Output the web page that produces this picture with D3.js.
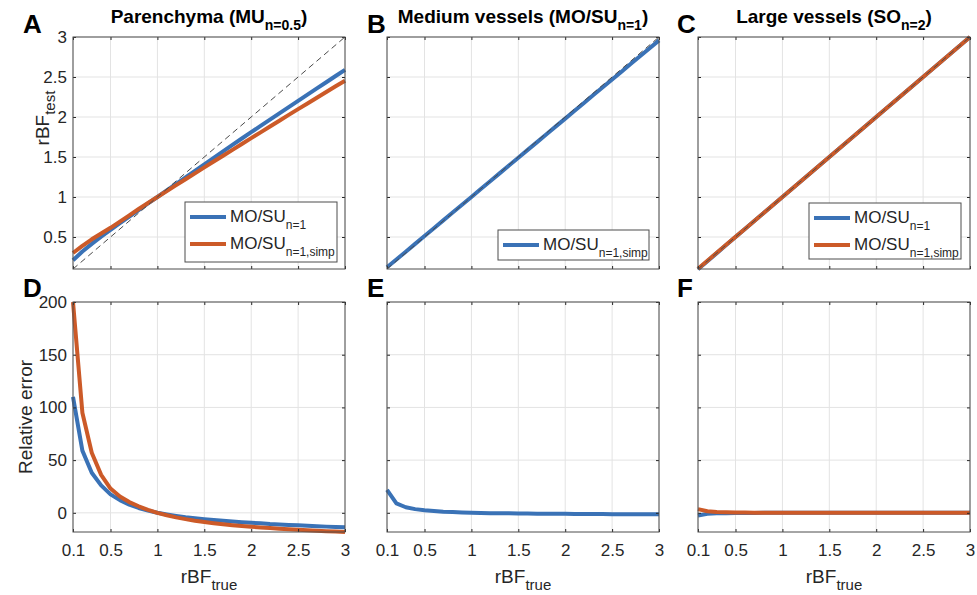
<!DOCTYPE html>
<html lang="en">
<head>
<meta charset="UTF-8">
<title>rBF test vs true</title>
<style>
  body { margin: 0; background: #fff; font-family: "Liberation Sans", Arial, sans-serif; }
  .tick text { font-size: 17px; fill: #262626; font-family: "Liberation Sans", Arial, sans-serif; }
  .tick line { stroke: #262626; }
</style>
<script src="https://d3js.org/d3.v7.min.js"></script>
</head>
<body>
<svg id="fig" width="977" height="595"></svg>
<script>
// x values shared by every panel
const rbfTrue = [0.1, 0.2, 0.3, 0.4, 0.5, 0.6, 0.7, 0.8, 0.9, 1.0,
                 1.1, 1.2, 1.3, 1.4, 1.5, 1.6, 1.7, 1.8, 1.9, 2.0,
                 2.1, 2.2, 2.3, 2.4, 2.5, 2.6, 2.7, 2.8, 2.9, 3.0];

// A: parenchyma, rBF_test
const parTestMO   = [0.21, 0.318, 0.414, 0.504, 0.588, 0.672, 0.755, 0.837, 0.919, 1.0,
                     1.082, 1.164, 1.245, 1.327, 1.409, 1.49, 1.571, 1.651, 1.731, 1.81,
                     1.889, 1.967, 2.046, 2.124, 2.202, 2.28, 2.357, 2.434, 2.512, 2.59];
const parTestSimp = [0.30, 0.39, 0.471, 0.544, 0.615, 0.693, 0.771, 0.85, 0.925, 1.0,
                     1.075, 1.148, 1.222, 1.295, 1.37, 1.443, 1.516, 1.589, 1.663, 1.736,
                     1.808, 1.881, 1.953, 2.026, 2.098, 2.168, 2.241, 2.313, 2.384, 2.454];
// D: parenchyma, relative error (%)
const parErrMO   = [110, 59, 38, 26, 17.5, 12, 7.8, 4.6, 2.1, 0,
                    -1.6, -3.0, -4.2, -5.2, -6.1, -6.9, -7.6, -8.3, -8.9, -9.5,
                    -10.0, -10.6, -11.0, -11.5, -11.9, -12.3, -12.7, -13.1, -13.4, -13.7];
const parErrSimp = [200, 95, 57, 36, 23, 15.5, 10.2, 6.2, 2.8, 0,
                    -2.3, -4.3, -6.0, -7.5, -8.7, -9.8, -10.8, -11.7, -12.5, -13.2,
                    -13.9, -14.5, -15.1, -15.6, -16.1, -16.6, -17.0, -17.4, -17.8, -18.2];

// B / E: medium vessels
const medTestSimp = [0.122, 0.218, 0.316, 0.414, 0.512, 0.61, 0.708, 0.806, 0.903, 1.001,
                     1.099, 1.196, 1.295, 1.393, 1.491, 1.589, 1.686, 1.785, 1.883, 1.98,
                     2.078, 2.176, 2.274, 2.371, 2.469, 2.566, 2.665, 2.762, 2.859, 2.958];
const medErrSimp  = [21.7, 8.9, 5.3, 3.5, 2.4, 1.7, 1.1, 0.7, 0.35, 0.1,
                     -0.1, -0.3, -0.4, -0.5, -0.6, -0.7, -0.8, -0.85, -0.9, -1.0,
                     -1.05, -1.1, -1.15, -1.2, -1.25, -1.3, -1.3, -1.35, -1.4, -1.4];

// C / F: large vessels
const largeTestMO   = [0.0975, 0.198, 0.2985, 0.399, 0.499, 0.6, 0.7, 0.8, 0.9, 1.0,
                       1.1, 1.2, 1.3, 1.4, 1.5, 1.6, 1.7, 1.8, 1.9, 2.0,
                       2.1, 2.2, 2.3, 2.4, 2.5, 2.6, 2.7, 2.8, 2.9, 3.0];
const largeTestSimp = [0.1035, 0.203, 0.3024, 0.402, 0.5015, 0.601, 0.7007, 0.8004, 0.9, 1.0,
                       1.1, 1.2, 1.3, 1.4, 1.5, 1.6, 1.7, 1.8, 1.9, 2.0,
                       2.1, 2.2, 2.3, 2.4, 2.5, 2.6, 2.7, 2.8, 2.9, 3.0];
const largeErrMO   = [-2.5, -1.0, -0.5, -0.3, -0.2, -0.1, -0.1, -0.05, 0, 0,
                      0, 0, 0, 0, 0, 0, 0, 0, 0, 0,
                      0, 0, 0, 0, 0, 0, 0, 0, 0, 0];
const largeErrSimp = [3.5, 1.5, 0.8, 0.5, 0.3, 0.2, 0.1, 0.05, 0, 0,
                      0, 0, 0, 0, 0, 0, 0, 0, 0, 0,
                      0, 0, 0, 0, 0, 0, 0, 0, 0, 0];

const identity = [0.1, 3];
const xTicks = [0.1, 0.5, 1, 1.5, 2, 2.5, 3];
const yTicksTop = [0.5, 1, 1.5, 2, 2.5, 3];
const yTicksBottom = [0, 50, 100, 150, 200];
const xDomain = [0.1, 3];
const yDomainTop = [0.1, 3];
const yDomainBottom = [d3.min(parErrSimp), 200];

const blue = "#3a72b6", orange = "#cc5a28";

// layout
const colLeft = [73, 387, 698];
const letterX = [23, 367, 677];
const plotW = 272;
const rowTop = [37, 302], rowBottom = [269, 532];

const svg = d3.select("#fig");

function subText(sel, main, sub, tail, mainSize, subSize, shift) {
    sel.append("tspan").attr("font-size", mainSize).text(main);
    sel.append("tspan").attr("font-size", subSize).attr("dy", shift).text(sub);
    if (tail) sel.append("tspan").attr("font-size", mainSize).attr("dy", -shift).text(tail);
    return sel;
}

const panels = [
    { col: 0, row: 0, letter: "A", title: ["Parenchyma (MU", "n=0.5", ")"],
      series: [{ v: parTestMO, c: blue }, { v: parTestSimp, c: orange }],
      legend: [{ c: blue, sub: "n=1" }, { c: orange, sub: "n=1,simp" }], leg: { w: 152, h: 60, dx: 8, dy: 7 } },
    { col: 1, row: 0, letter: "B", title: ["Medium vessels (MO/SU", "n=1", ")"],
      series: [{ v: medTestSimp, c: blue }],
      legend: [{ c: blue, sub: "n=1,simp" }], leg: { w: 151, h: 30, dx: 10, dy: 9 } },
    { col: 2, row: 0, letter: "C", title: ["Large vessels (SO", "n=2", ")"],
      series: [{ v: largeTestMO, c: blue }, { v: largeTestSimp, c: orange }],
      legend: [{ c: blue, sub: "n=1" }, { c: orange, sub: "n=1,simp" }], leg: { w: 152, h: 56, dx: 9, dy: 10 } },
    { col: 0, row: 1, letter: "D",
      series: [{ v: parErrMO, c: blue }, { v: parErrSimp, c: orange }] },
    { col: 1, row: 1, letter: "E",
      series: [{ v: medErrSimp, c: blue }] },
    { col: 2, row: 1, letter: "F",
      series: [{ v: largeErrMO, c: blue }, { v: largeErrSimp, c: orange }] }
];

panels.forEach(p => {
    const L = colLeft[p.col], R = L + plotW;
    const T = rowTop[p.row], B = rowBottom[p.row];
    const x = d3.scaleLinear().domain(xDomain).range([L, R]);
    const y = d3.scaleLinear().domain(p.row === 0 ? yDomainTop : yDomainBottom).range([B, T]);
    const yTicks = p.row === 0 ? yTicksTop : yTicksBottom;
    const g = svg.append("g");

    // grid
    g.append("g").selectAll("line").data(xTicks).join("line")
        .attr("x1", d => x(d)).attr("x2", d => x(d)).attr("y1", T).attr("y2", B)
        .attr("stroke", "#e3e3e3").attr("stroke-width", 1);
    g.append("g").selectAll("line").data(yTicks).join("line")
        .attr("x1", L).attr("x2", R).attr("y1", d => y(d)).attr("y2", d => y(d))
        .attr("stroke", "#e3e3e3").attr("stroke-width", 1);

    // series
    const line = d3.line().x((d, i) => x(rbfTrue[i])).y(d => y(d));
    p.series.forEach(s => {
        g.append("path").datum(s.v).attr("d", line)
            .attr("fill", "none").attr("stroke", s.c).attr("stroke-width", 4)
            .attr("stroke-linejoin", "round");
    });

    // identity line on top of the curves
    if (p.row === 0) {
        g.append("path").datum(identity)
            .attr("d", d3.line().x(d => x(d)).y(d => y(d)))
            .attr("fill", "none").attr("stroke", "#4a4a4a").attr("stroke-width", 1)
            .attr("stroke-dasharray", "6,4");
    }

    // axes, ticks pointing inward on all four sides
    const fmt = d => String(d);
    const ax = g.append("g").attr("transform", `translate(0,${B})`)
        .call(d3.axisBottom(x).tickValues(xTicks).tickSize(-3).tickPadding(12)
            .tickFormat(p.row === 1 ? fmt : ""));
    const ay = g.append("g").attr("transform", `translate(${L},0)`)
        .call(d3.axisLeft(y).tickValues(yTicks).tickSize(-3).tickPadding(6)
            .tickFormat(p.col === 0 ? fmt : ""));
    const at = g.append("g").attr("transform", `translate(0,${T})`)
        .call(d3.axisTop(x).tickValues(xTicks).tickSize(-3).tickFormat(""));
    const ar = g.append("g").attr("transform", `translate(${R},0)`)
        .call(d3.axisRight(y).tickValues(yTicks).tickSize(-3).tickFormat(""));
    [ax, ay, at, ar].forEach(a => a.select(".domain").remove());

    g.append("rect").attr("x", L).attr("y", T).attr("width", plotW).attr("height", B - T)
        .attr("fill", "none").attr("stroke", "#4d4d4d").attr("stroke-width", 1);

    // panel letter
    g.append("text").attr("x", letterX[p.col]).attr("y", p.row === 0 ? 33 : 297)
        .attr("font-size", 26).attr("font-weight", "bold").attr("fill", "#000")
        .text(p.letter);

    // title
    if (p.title) {
        const t = g.append("text").attr("x", (L + R) / 2).attr("y", 23)
            .attr("text-anchor", "middle").attr("font-weight", "bold").attr("fill", "#000");
        subText(t, p.title[0], p.title[1], p.title[2], 19, 14, 7);
    }

    // x label
    if (p.row === 1) {
        const t = g.append("text").attr("x", (L + R) / 2).attr("y", 583)
            .attr("text-anchor", "middle").attr("fill", "#262626");
        subText(t, "rBF", "true", null, 19, 15, 7);
    }

    // legend
    if (p.legend) {
        const lx = R - p.leg.dx - p.leg.w, ly = B - p.leg.dy - p.leg.h;
        const lg = g.append("g").attr("transform", `translate(${lx},${ly})`);
        lg.append("rect").attr("width", p.leg.w).attr("height", p.leg.h)
            .attr("fill", "#fff").attr("stroke", "#4d4d4d").attr("stroke-width", 1);
        p.legend.forEach((e, i) => {
            const cy = 15 + i * 27;
            lg.append("line").attr("x1", 5).attr("x2", 41).attr("y1", cy).attr("y2", cy)
                .attr("stroke", e.c).attr("stroke-width", 4);
            const t = lg.append("text").attr("x", 45).attr("y", cy + 5).attr("fill", "#262626");
            subText(t, "MO/SU", e.sub, null, 17, 12, 7);
        });
    }
});

// y labels
const yl1 = svg.append("text").attr("transform", "translate(49,118) rotate(-90)")
    .attr("text-anchor", "middle").attr("fill", "#262626");
subText(yl1, "rBF", "test", null, 19, 15, 6);
svg.append("text").attr("transform", `translate(32,${(rowTop[1] + rowBottom[1]) / 2}) rotate(-90)`)
    .attr("text-anchor", "middle").attr("fill", "#262626").attr("font-size", 19)
    .text("Relative error");
</script>
</body>
</html>
